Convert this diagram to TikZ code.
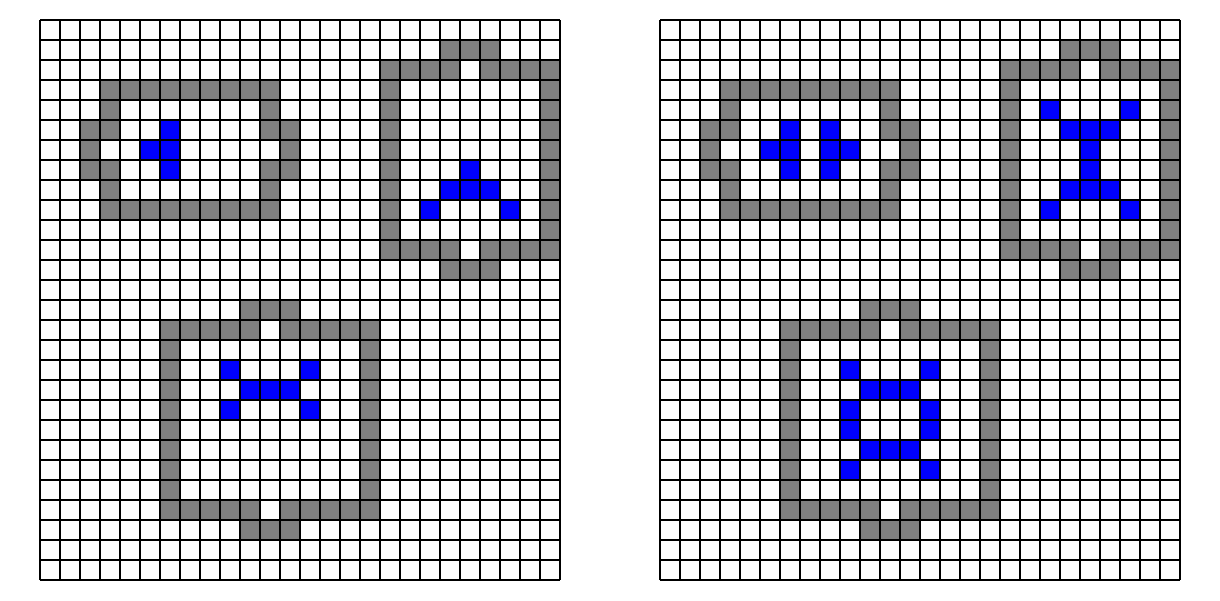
\documentclass[tikz,border=0pt]{standalone}
\usepackage{xcolor}
\definecolor{framegray}{RGB}{128,128,128}
\definecolor{markblue}{RGB}{0,0,255}
\tikzset{
  grayc/.style={fill=framegray},
  bluec/.style={fill=markblue},
  gridline/.style={draw=black,line width=0.55pt}
}
\newcommand\fc[3]{\fill[#1] (#2,27-#3) rectangle ++(1,1);}
\newcommand\framecells{%
  \foreach \ci in {3,...,11} {\fc{grayc}{\ci}{3}\fc{grayc}{\ci}{9}}
  \foreach \ci in {3,11} {\fc{grayc}{\ci}{4}\fc{grayc}{\ci}{8}}
  \foreach \ci in {2,3,11,12} {\fc{grayc}{\ci}{5}\fc{grayc}{\ci}{7}}
  \foreach \ci in {2,12} {\fc{grayc}{\ci}{6}}
  \foreach \ci in {20,21,22} {\fc{grayc}{\ci}{1}\fc{grayc}{\ci}{12}}
  \foreach \ci in {17,18,19,20,22,23,24,25} {\fc{grayc}{\ci}{2}\fc{grayc}{\ci}{11}}
  \foreach \ri in {3,...,10} {\fc{grayc}{17}{\ri}\fc{grayc}{25}{\ri}}
  \foreach \ci in {10,11,12} {\fc{grayc}{\ci}{14}\fc{grayc}{\ci}{25}}
  \foreach \ci in {6,7,8,9,10,12,13,14,15,16} {\fc{grayc}{\ci}{15}\fc{grayc}{\ci}{24}}
  \foreach \ri in {16,...,23} {\fc{grayc}{6}{\ri}\fc{grayc}{16}{\ri}}
}
\begin{document}
\begin{tikzpicture}[x=10pt,y=10pt]
\useasboundingbox (0,0) rectangle (61,30);
\fill[white] (0,0) rectangle (61,30);
% left grid
\begin{scope}[shift={(2,1)}]
  \framecells
  \foreach \ci/\ri in {6/5,5/6,6/6,6/7, 21/7,20/8,21/8,22/8,19/9,23/9,
                       9/17,13/17,10/18,11/18,12/18,9/19,13/19}
    {\fc{bluec}{\ci}{\ri}}
  \draw[gridline,xstep=10pt,ystep=10pt] (0,0) grid (26,28);
\end{scope}
% right grid
\begin{scope}[shift={(33,1)}]
  \framecells
  \foreach \ci/\ri in {6/5,8/5,5/6,6/6,8/6,9/6,6/7,8/7,
                       19/4,23/4,20/5,21/5,22/5,21/6,21/7,20/8,21/8,22/8,19/9,23/9,
                       9/17,13/17,10/18,11/18,12/18,9/19,13/19,9/20,13/20,
                       10/21,11/21,12/21,9/22,13/22}
    {\fc{bluec}{\ci}{\ri}}
  \draw[gridline,xstep=10pt,ystep=10pt] (0,0) grid (26,28);
\end{scope}
\end{tikzpicture}
\end{document}
